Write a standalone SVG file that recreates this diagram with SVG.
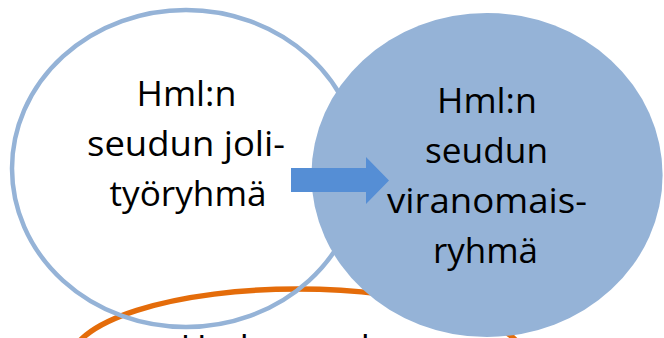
<svg xmlns="http://www.w3.org/2000/svg" width="664" height="338" viewBox="0 0 664 338">
<style>
.lbl{font-family:"Open Sans","Liberation Sans",sans-serif;font-size:34px;fill:#000;text-anchor:middle}
</style>
<rect width="664" height="338" fill="#fff"/>
<g id="node-bottom">
<ellipse cx="298" cy="362" rx="228" ry="73" fill="none" stroke="#E46C0A" stroke-width="5.5"/>
<text class="lbl" x="297" y="360" textLength="233" lengthAdjust="spacingAndGlyphs">Hml:n seudun</text>
</g>
<g id="node-left">
<ellipse cx="186" cy="168.5" rx="174" ry="158.5" fill="none" stroke="#95B3D7" stroke-width="4.5"/>
<text class="lbl" x="186.5" y="106" textLength="100" lengthAdjust="spacingAndGlyphs">Hml:n</text>
<text class="lbl" x="186" y="156" textLength="198" lengthAdjust="spacingAndGlyphs">seudun joli-</text>
<text class="lbl" x="188" y="205.5" textLength="157" lengthAdjust="spacingAndGlyphs">työryhmä</text>
</g>
<g id="node-right">
<ellipse cx="487" cy="175" rx="175.6" ry="162" fill="#95B3D7"/>
<text class="lbl" x="487" y="113" textLength="100" lengthAdjust="spacingAndGlyphs">Hml:n</text>
<text class="lbl" x="486.5" y="163" textLength="123" lengthAdjust="spacingAndGlyphs">seudun</text>
<text class="lbl" x="487" y="213" textLength="200" lengthAdjust="spacingAndGlyphs">viranomais-</text>
<text class="lbl" x="485.5" y="263" textLength="105" lengthAdjust="spacingAndGlyphs">ryhmä</text>
</g>
<g id="connectors">
<polygon points="291,168 366,168 366,157 389,180.5 366,204 366,192 291,192" fill="#558ED5"/>
</g>
</svg>
